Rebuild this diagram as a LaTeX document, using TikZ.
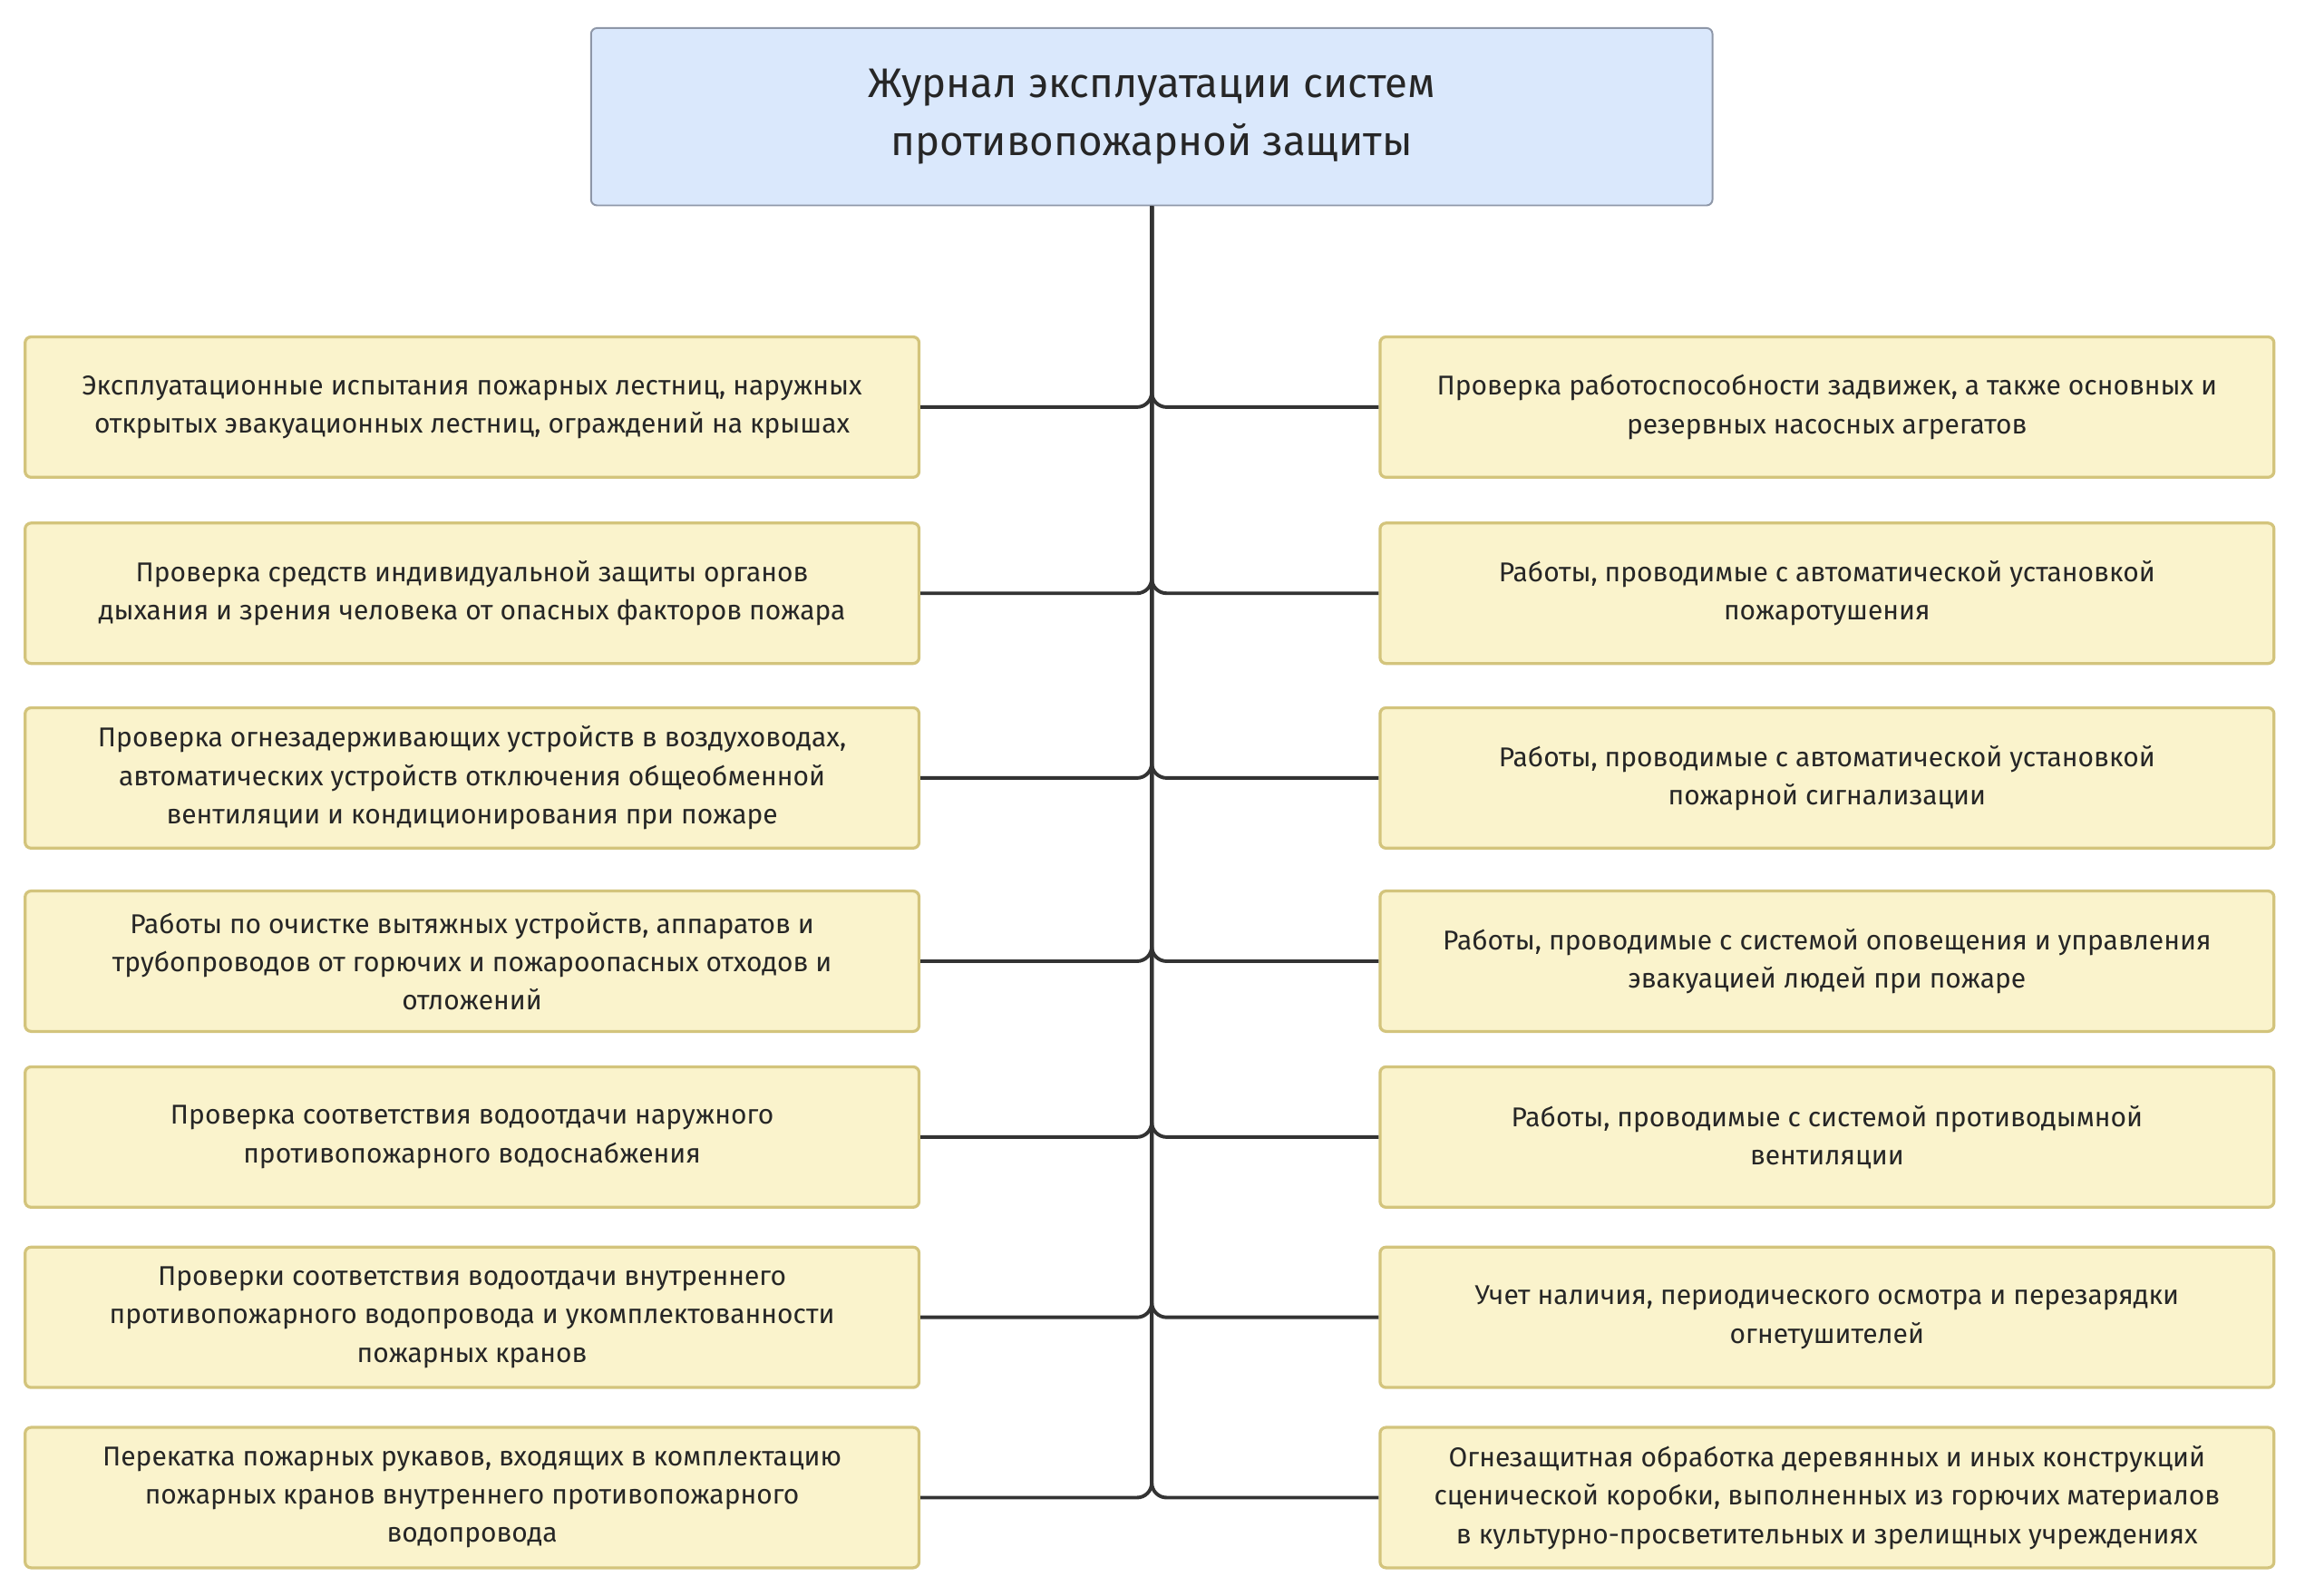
\documentclass[tikz,border=0pt]{standalone}
\usepackage{fontspec}
\setmainfont{Fira Sans}
\usetikzlibrary{positioning}
\definecolor{itemfill}{HTML}{FAF3CC}
\definecolor{itemline}{HTML}{D3C47C}
\definecolor{headfill}{HTML}{DAE8FC}
\definecolor{headline}{HTML}{8E97A8}
\definecolor{wire}{HTML}{333333}
\tikzset{
  item/.style={draw=itemline, fill=itemfill, line width=1pt, rounded corners=2pt,
    minimum width=302.5pt, minimum height=47.5pt, align=center, inner sep=2pt,
    font=\fontsize{9.2}{13}\selectfont, text=black!85},
  head/.style={draw=headline, fill=headfill, line width=0.6pt, rounded corners=2pt,
    minimum width=379.5pt, minimum height=60pt, align=center,
    font=\fontsize{14}{19.5}\selectfont, text=black!85},
  wireline/.style={draw=wire, line width=1.2pt, rounded corners=5pt}
}
\begin{document}
\begin{tikzpicture}[x=0.5pt,y=-0.5pt]
\useasboundingbox (0,0) rectangle (1560,1080);
\node[head] (J) at (779.5,79) {Журнал эксплуатации систем\\противопожарной защиты};

\node[item] (L1) at (319.5,275.5) {Эксплуатационные испытания пожарных лестниц, наружных\\открытых эвакуационных лестниц, ограждений на крышах};
\node[item] (L2) at (319.5,401.5) {Проверка средств индивидуальной защиты органов\\дыхания и зрения человека от опасных факторов пожара};
\node[item] (L3) at (319.5,526.5) {Проверка огнезадерживающих устройств в воздуховодах,\\автоматических устройств отключения общеобменной\\вентиляции и кондиционирования при пожаре};
\node[item] (L4) at (319.5,650.5) {Работы по очистке вытяжных устройств, аппаратов и\\трубопроводов от горючих и пожароопасных отходов и\\отложений};
\node[item] (L5) at (319.5,769.5) {Проверка соответствия водоотдачи наружного\\противопожарного водоснабжения};
\node[item] (L6) at (319.5,891.5) {Проверки соответствия водоотдачи внутреннего\\противопожарного водопровода и укомплектованности\\пожарных кранов};
\node[item] (L7) at (319.5,1013.5) {Перекатка пожарных рукавов, входящих в комплектацию\\пожарных кранов внутреннего противопожарного\\водопровода};

\node[item] (R1) at (1236.5,275.5) {Проверка работоспособности задвижек, а также основных и\\резервных насосных агрегатов};
\node[item] (R2) at (1236.5,401.5) {Работы, проводимые с автоматической установкой\\пожаротушения};
\node[item] (R3) at (1236.5,526.5) {Работы, проводимые с автоматической установкой\\пожарной сигнализации};
\node[item] (R4) at (1236.5,650.5) {Работы, проводимые с системой оповещения и управления\\эвакуацией людей при пожаре};
\node[item] (R5) at (1236.5,769.5) {Работы, проводимые с системой противодымной\\вентиляции};
\node[item] (R6) at (1236.5,891.5) {Учет наличия, периодического осмотра и перезарядки\\огнетушителей};
\node[item] (R7) at (1236.5,1013.5) {Огнезащитная обработка деревянных и иных конструкций\\сценической коробки, выполненных из горючих материалов\\в культурно-просветительных и зрелищных учреждениях};

% branches from the title down the spine
\foreach \i in {1,...,7}{
  \draw[wireline] (J.south) |- (L\i.east);
  \draw[wireline] (J.south) |- (R\i.west);
}
\end{tikzpicture}
\end{document}
